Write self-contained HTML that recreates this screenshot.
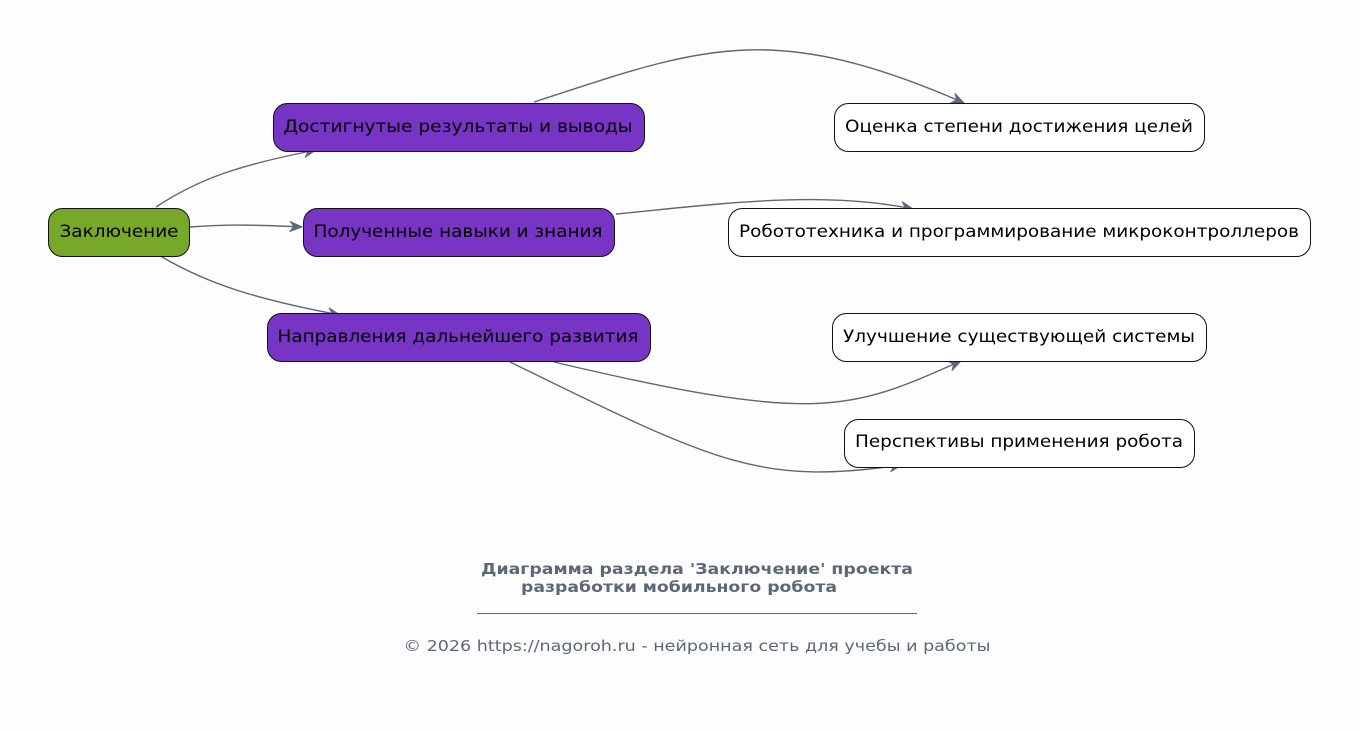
<!DOCTYPE html>
<html><head><meta charset="utf-8"><style>
html,body{margin:0;padding:0;background:#fdfdfd;}
svg{display:block;}
text{font-family:"DejaVu Sans","Liberation Sans",sans-serif;}
</style></head><body>
<svg width="1359" height="730" viewBox="0 0 1359 730" xmlns="http://www.w3.org/2000/svg">
<defs>
<marker id="a" viewBox="0 0 14 12" refX="13" refY="6" markerWidth="14" markerHeight="12" markerUnits="userSpaceOnUse" orient="auto">
<path d="M1,1 L13,6 L1,11 L5,6 Z" fill="#5c6878" stroke="#5c6878" stroke-width="1" stroke-linejoin="round"/>
</marker>
</defs>
<rect width="1359" height="730" fill="#fdfdfd"/>
<g fill="none" stroke="#5c6878" stroke-width="1.4" marker-end="url(#a)">
<path d="M156,207 C200,178 240,165 316,150"/>
<path d="M190,227 C230,224 260,225 302,227"/>
<path d="M162,257 C210,285 260,300 340,315"/>
<path d="M534,102 C700,48 770,18 964,103"/>
<path d="M616,214 C720,204 820,190 913,209"/>
<path d="M554,362 C820,425 850,410 961,361"/>
<path d="M510,362 C720,465 760,485 902,465"/>
</g>
<g stroke="#111" stroke-width="1">
<rect x="48.5" y="208.5" width="141" height="48" rx="14" fill="#78a82a"/>
<rect x="273.5" y="103.5" width="371" height="48" rx="14" fill="#7834c4"/>
<rect x="303.5" y="208.5" width="311" height="48" rx="14" fill="#7834c4"/>
<rect x="267.5" y="313.5" width="383" height="48" rx="14" fill="#7834c4"/>
<rect x="834.5" y="103.5" width="370" height="48" rx="14" fill="#fff"/>
<rect x="728.5" y="208.5" width="582" height="48" rx="14" fill="#fff"/>
<rect x="832.5" y="313.5" width="374" height="48" rx="14" fill="#fff"/>
<rect x="844.5" y="419.5" width="350" height="48" rx="14" fill="#fff"/>
</g>
<g font-size="16.5" fill="#000" text-anchor="middle">
<text x="119" y="237" textLength="119" lengthAdjust="spacingAndGlyphs">Заключение</text>
<text x="458" y="132" textLength="349" lengthAdjust="spacingAndGlyphs">Достигнутые результаты и выводы</text>
<text x="458" y="237" textLength="289" lengthAdjust="spacingAndGlyphs">Полученные навыки и знания</text>
<text x="458" y="342" textLength="361" lengthAdjust="spacingAndGlyphs">Направления дальнейшего развития</text>
<text x="1019" y="132" textLength="348" lengthAdjust="spacingAndGlyphs">Оценка степени достижения целей</text>
<text x="1019" y="237" textLength="560" lengthAdjust="spacingAndGlyphs">Робототехника и программирование микроконтроллеров</text>
<text x="1019" y="342" textLength="352" lengthAdjust="spacingAndGlyphs">Улучшение существующей системы</text>
<text x="1019" y="447" textLength="328" lengthAdjust="spacingAndGlyphs">Перспективы применения робота</text>
</g>
<g fill="#5c6878" text-anchor="middle">
<text x="697" y="574" font-size="15" font-weight="bold" textLength="432" lengthAdjust="spacingAndGlyphs">Диаграмма раздела 'Заключение' проекта</text>
<text x="679" y="592" font-size="15" font-weight="bold" textLength="316" lengthAdjust="spacingAndGlyphs">разработки мобильного робота</text>
<text x="697" y="651" font-size="15.5" textLength="587" lengthAdjust="spacingAndGlyphs">© 2026 https://nagoroh.ru - нейронная сеть для учебы и работы</text>
</g>
<line x1="477" y1="613.5" x2="917" y2="613.5" stroke="#5c6878" stroke-width="1"/>
</svg>
</body></html>
